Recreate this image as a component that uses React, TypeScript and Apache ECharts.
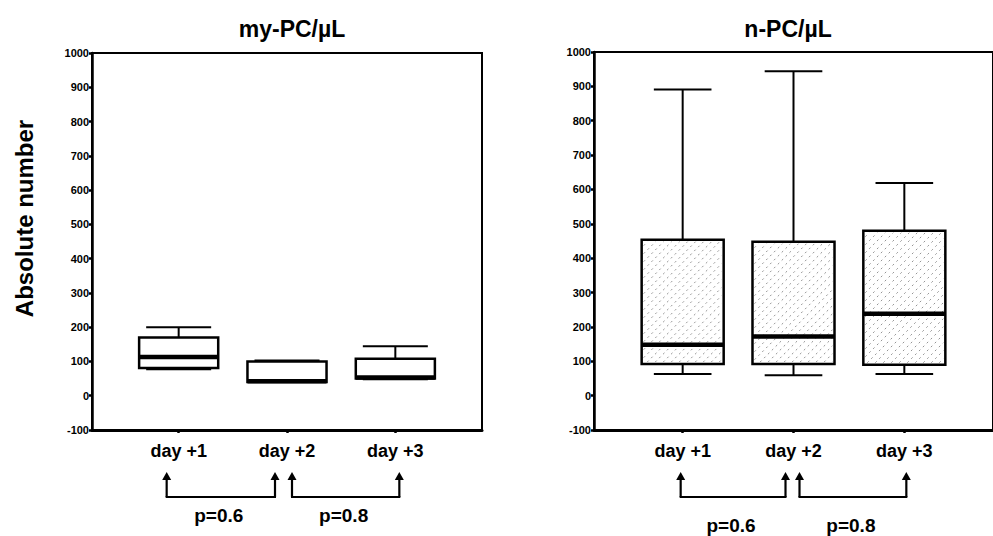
import React, { useEffect, useRef } from "react";
import * as echarts from "echarts";

// ---- data ----
const xPositions = [1, 2, 3];
const dayLabels = ["day +1", "day +2", "day +3"];
const yMin = -100;
const yMax = 1000;
const yInterval = 100;

// my-PC/µL
const myMin = [77, 40, 48];
const myQ1 = [81, 40, 50];
const myMed = [113, 42, 53];
const myQ3 = [170, 100, 108];
const myMax = [200, 103, 144];

// n-PC/µL
const nMin = [63, 59, 63];
const nQ1 = [92, 92, 90];
const nMed = [148, 172, 238];
const nQ3 = [454, 448, 480];
const nMax = [891, 944, 619];

const compFrom = [1, 2];
const compTo = [2, 3];
const myPLabels = ["p=0.6", "p=0.8"];
const nPLabels = ["p=0.6", "p=0.8"];

const FONT = "'Liberation Sans', Arial, sans-serif";

function boxData(mn: number[], q1: number[], md: number[], q3: number[], mx: number[]) {
  return xPositions.map((x, i) => [x, mn[i], q1[i], md[i], q3[i], mx[i]]);
}

function makeBoxRender(boxFrac: number, capFrac: number, hatched: boolean) {
  return (params: any, api: any) => {
    const x = api.value(0);
    const pMin = api.coord([x, api.value(1)]);
    const pQ1 = api.coord([x, api.value(2)]);
    const pMed = api.coord([x, api.value(3)]);
    const pQ3 = api.coord([x, api.value(4)]);
    const pMax = api.coord([x, api.value(5)]);
    const unit = api.size([1, 0])[0];
    const bw = unit * boxFrac;
    const cw = unit * capFrac;
    const cx = pMed[0];
    const x0 = cx - bw / 2;
    const x1 = cx + bw / 2;
    const y0 = pQ3[1];
    const y1 = pQ1[1];
    const black = { stroke: "#000", lineWidth: 2 };
    const children: any[] = [
      { type: "line", shape: { x1: cx, y1: pMax[1], x2: cx, y2: y0 }, style: black },
      { type: "line", shape: { x1: cx - cw / 2, y1: pMax[1], x2: cx + cw / 2, y2: pMax[1] }, style: black },
      { type: "line", shape: { x1: cx, y1: y1, x2: cx, y2: pMin[1] }, style: black },
      { type: "line", shape: { x1: cx - cw / 2, y1: pMin[1], x2: cx + cw / 2, y2: pMin[1] }, style: black },
      {
        type: "rect",
        shape: { x: x0, y: y0, width: bw, height: y1 - y0 },
        style: { fill: "#fff", stroke: "#000", lineWidth: 2.5 },
      },
    ];
    if (hatched) {
      const s = 8;
      const ix0 = x0 + 2, ix1 = x1 - 2, iy0 = y0 + 2, iy1 = y1 - 2;
      for (let c = ix0 + iy0 + s / 2; c < ix1 + iy1; c += s) {
        const xs = Math.max(ix0, c - iy1);
        const xe = Math.min(ix1, c - iy0);
        if (xe > xs) {
          children.push({
            type: "line",
            shape: { x1: xs, y1: c - xs, x2: xe, y2: c - xe },
            style: { stroke: "#888", lineWidth: 0.9, lineDash: [2, 3.5] },
          });
        }
      }
    }
    children.push({
      type: "line",
      shape: { x1: x0, y1: pMed[1], x2: x1, y2: pMed[1] },
      style: { stroke: "#000", lineWidth: 4.5 },
    });
    return { type: "group", children };
  };
}

function makeCompRender(labels: string[], offA: number[], offB: number[], labelDy: number) {
  return (params: any, api: any) => {
    const i = params.dataIndex;
    const a = api.coord([api.value(0), yMin]);
    const b = api.coord([api.value(1), yMin]);
    const base = a[1];
    const xa = a[0] + offA[i];
    const xb = b[0] + offB[i];
    const tip = base + 42;
    const bracket = base + 67;
    const stroke = { stroke: "#000", lineWidth: 2.2 };
    const arrow = (xx: number) => [
      { type: "polygon", shape: { points: [[xx, tip], [xx - 4.5, tip + 8], [xx + 4.5, tip + 8]] }, style: { fill: "#000" } },
      { type: "line", shape: { x1: xx, y1: tip + 6, x2: xx, y2: bracket }, style: stroke },
    ];
    return {
      type: "group",
      children: [
        ...arrow(xa),
        ...arrow(xb),
        { type: "line", shape: { x1: xa - 1, y1: bracket, x2: xb + 1, y2: bracket }, style: stroke },
        {
          type: "text",
          style: {
            text: labels[i],
            x: (xa + xb) / 2 - 2,
            y: base + labelDy,
            align: "center",
            verticalAlign: "middle",
            fill: "#000",
            fontSize: 19,
            fontWeight: "bold",
            fontFamily: FONT,
          },
        },
      ],
    };
  };
}

function yAxis(gridIndex: number, withName: boolean) {
  return {
    type: "value",
    gridIndex,
    min: yMin,
    max: yMax,
    interval: yInterval,
    name: withName ? "Absolute number" : "",
    nameLocation: "middle",
    nameRotate: 90,
    nameGap: 56,
    nameTextStyle: {
      fontSize: 24,
      fontWeight: "bold",
      fontFamily: FONT,
      color: "#000",
      padding: [0, 0, 0, 46],
    },
    axisLine: { show: true, lineStyle: { color: "#000", width: 2.5 } },
    axisTick: { show: true, length: 3, lineStyle: { color: "#000", width: 2.5 } },
    axisLabel: {
      fontSize: 11,
      fontWeight: "bold",
      fontFamily: FONT,
      color: "#000",
      margin: 3,
      formatter: (v: number) => String(v),
    },
    splitLine: { show: false },
  };
}

function xAxis(gridIndex: number) {
  return {
    type: "value",
    gridIndex,
    min: 0.2,
    max: 3.8,
    axisLine: { show: true, onZero: false, lineStyle: { color: "#000", width: 3 } },
    axisTick: { show: true, length: 3, customValues: xPositions, lineStyle: { color: "#000", width: 2.5 } },
    axisLabel: {
      customValues: xPositions,
      formatter: (v: number) => dayLabels[Math.round(v) - 1] ?? "",
      fontSize: 18,
      fontWeight: "bold",
      fontFamily: FONT,
      color: "#000",
      margin: 12,
    },
    splitLine: { show: false },
  };
}

export default function App() {
  const ref = useRef<HTMLDivElement>(null);
  useEffect(() => {
    if (!ref.current) return;
    const chart = echarts.init(ref.current, undefined, { renderer: "svg" });
    const titleStyle = { fontSize: 23, fontWeight: "bold", fontFamily: FONT, color: "#000" };
    chart.setOption({
      animation: false,
      backgroundColor: "#fff",
      title: [
        { text: "my-PC/µL", left: 287, top: 12, textAlign: "center", textStyle: titleStyle },
        { text: "n-PC/µL", left: 783, top: 12, textAlign: "center", textStyle: titleStyle },
      ],
      grid: [
        { left: 92, top: 53, width: 390, height: 377, show: true, borderColor: "#000", borderWidth: 2, backgroundColor: "#fff" },
        { left: 594, top: 52, width: 407, height: 378, show: true, borderColor: "#000", borderWidth: 2, backgroundColor: "#fff" },
      ],
      xAxis: [xAxis(0), xAxis(1)],
      yAxis: [yAxis(0, true), yAxis(1, false)],
      series: [
        {
          type: "custom",
          xAxisIndex: 0,
          yAxisIndex: 0,
          clip: false,
          encode: { x: 0, y: [1, 2, 3, 4, 5] },
          data: boxData(myMin, myQ1, myMed, myQ3, myMax),
          renderItem: makeBoxRender(0.73, 0.6, false),
        },
        {
          type: "custom",
          xAxisIndex: 1,
          yAxisIndex: 1,
          clip: false,
          encode: { x: 0, y: [1, 2, 3, 4, 5] },
          data: boxData(nMin, nQ1, nMed, nQ3, nMax),
          renderItem: makeBoxRender(0.74, 0.52, true),
        },
        {
          type: "custom",
          xAxisIndex: 0,
          yAxisIndex: 0,
          clip: false,
          encode: { x: [0, 1] },
          data: compFrom.map((f, i) => [f, compTo[i]]),
          renderItem: makeCompRender(myPLabels, [-12, 5], [-12, 4], 85),
        },
        {
          type: "custom",
          xAxisIndex: 1,
          yAxisIndex: 1,
          clip: false,
          encode: { x: [0, 1] },
          data: compFrom.map((f, i) => [f, compTo[i]]),
          renderItem: makeCompRender(nPLabels, [-2, 6], [-8, 2], 95),
        },
      ],
    });
    return () => chart.dispose();
  }, []);
  return (
    <div
      ref={ref}
      style={{ position: "absolute", left: 0, top: 0, width: 993, height: 536, background: "#fff" }}
    />
  );
}
